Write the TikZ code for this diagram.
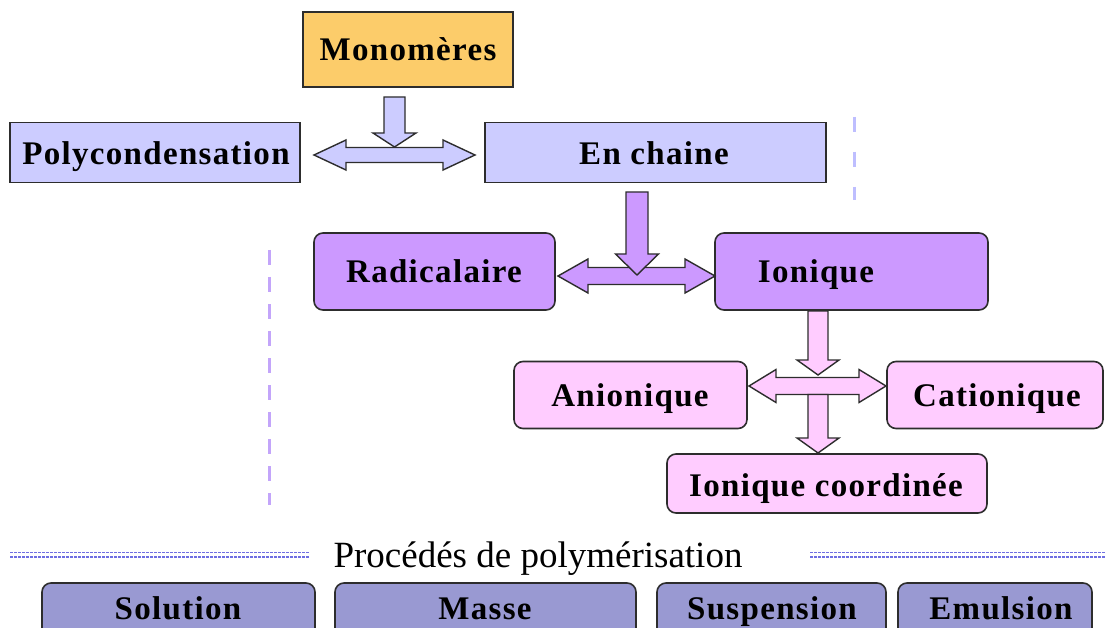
\documentclass[tikz,border=0pt]{standalone}
\usepackage{fontspec}
\setmainfont{Liberation Serif}
\newfontfamily\spbold[LetterSpace=4,BoldFont={Liberation Serif Bold}]{Liberation Serif}
\definecolor{orangebox}{RGB}{252,204,106}
\definecolor{lav}{RGB}{204,204,255}
\definecolor{purp}{RGB}{204,153,255}
\definecolor{pinkb}{RGB}{255,204,255}
\definecolor{slate}{RGB}{153,153,210}
\definecolor{edge}{RGB}{45,45,45}
\definecolor{dashpurp}{RGB}{195,165,250}
\definecolor{dashlav}{RGB}{190,190,255}
\definecolor{dashblue}{RGB}{110,110,225}
\newcommand\bdown[7]{\draw[arr,fill=#7] (#1-#5,#2) -- (#1+#5,#2) -- (#1+#5,#3) -- (#1+#6,#3) -- (#1,#4) -- (#1-#6,#3) -- (#1-#5,#3) -- cycle;}
\newcommand\bdouble[7]{\draw[arr,fill=#7] (#1,#3) -- (#1+#4,#3-#6) -- (#1+#4,#3-#5) -- (#2-#4,#3-#5) -- (#2-#4,#3-#6) -- (#2,#3) -- (#2-#4,#3+#6) -- (#2-#4,#3+#5) -- (#1+#4,#3+#5) -- (#1+#4,#3+#6) -- cycle;}
\begin{document}
\begin{tikzpicture}[x=1pt,y=-1pt,
  lbl/.style={font=\spbold\fontsize{33}{38}\selectfont\bfseries, inner sep=0pt, anchor=base},
  sqbox/.style={draw=edge, line width=1.6pt, inner sep=0pt},
  rbox/.style={draw=edge, line width=1.6pt, rounded corners=9pt, inner sep=0pt},
  arr/.style={draw=edge, line width=1.4pt, line join=miter},
  title/.style={font=\fontsize{37}{42}\selectfont, inner sep=0pt, anchor=base}]
\useasboundingbox (0,0) rectangle (1105,628);
\fill[white] (0,0) rectangle (1105,628);

% dashed guide lines
\draw[dashpurp, line width=3pt, dash pattern=on 15pt off 12pt] (269,250) -- (269,505);
\draw[dashlav, line width=3pt, dash pattern=on 15pt off 20pt] (854,117) -- (854,200);
\foreach \yy in {552.5,557} {
  \draw[dashblue, line width=1.1pt, dash pattern=on 3pt off 1pt] (10,\yy) -- (310,\yy);
  \draw[dashblue, line width=1.1pt, dash pattern=on 3pt off 1pt] (810,\yy) -- (1105,\yy);
}

% boxes
\node[sqbox, fill=orangebox, minimum width=210pt, minimum height=75pt] (mono) at (408,49.5) {};
\node[lbl] (monot) at (408,61) {Monomères};
\node[sqbox, fill=lav, minimum width=290pt, minimum height=60pt] (poly) at (155,152.5) {};
\node[lbl] (polyt) at (156,165) {Polycondensation};
\node[sqbox, fill=lav, minimum width=341pt, minimum height=60pt] (chain) at (655.5,152.5) {};
\node[lbl] (chaint) at (654,165) {En chaine};

\node[rbox, fill=purp, minimum width=241pt, minimum height=77pt] (rad) at (434.5,271.5) {};
\node[lbl] (radt) at (434,283) {Radicalaire};
\node[rbox, fill=purp, minimum width=273pt, minimum height=77pt] (ion) at (851.5,271.5) {};
\node[lbl] (iont) at (816,283) {Ionique};

\node[rbox, fill=pinkb, minimum width=233pt, minimum height=67pt] (anio) at (630.5,395) {};
\node[lbl] (aniot) at (630,406) {Anionique};
\node[rbox, fill=pinkb, minimum width=216pt, minimum height=67pt] (catio) at (995,395) {};
\node[lbl] (catiot) at (997,406) {Cationique};
\node[rbox, fill=pinkb, minimum width=320pt, minimum height=59pt] (coord) at (827,483.5) {};
\node[lbl] (coordt) at (826,496) {Ionique coordinée};

% procedes
\node[title] (proc) at (538,567) {Procédés de polymérisation};
\node[rbox, fill=slate, minimum width=273pt, minimum height=70pt] (sol) at (178.5,618) {};
\node[lbl] (solt) at (178,619) {Solution};
\node[rbox, fill=slate, minimum width=301pt, minimum height=70pt] (mass) at (485.5,618) {};
\node[lbl] (masst) at (485,619) {Masse};
\node[rbox, fill=slate, minimum width=229pt, minimum height=70pt] (susp) at (771.5,618) {};
\node[lbl] (suspt) at (772,619) {Suspension};
\node[rbox, fill=slate, minimum width=194pt, minimum height=70pt] (emul) at (995,618) {};
\node[lbl] (emult) at (1001,619) {Emulsion};

% block arrows
\bdouble{314}{475}{155}{32}{7.5}{15}{lav}
\bdown{394.5}{97}{133}{147}{10.5}{21.5}{lav}
\bdouble{558}{715}{276}{30}{8.5}{17}{purp}
\bdown{637}{192}{254}{275}{11}{21.5}{purp}
\bdouble{749}{886}{386}{27}{8.5}{16.5}{pinkb}
\bdown{818}{311}{360}{375}{10}{21}{pinkb}
\bdown{818}{394.5}{438}{453}{10}{21}{pinkb}
\end{tikzpicture}
\end{document}
